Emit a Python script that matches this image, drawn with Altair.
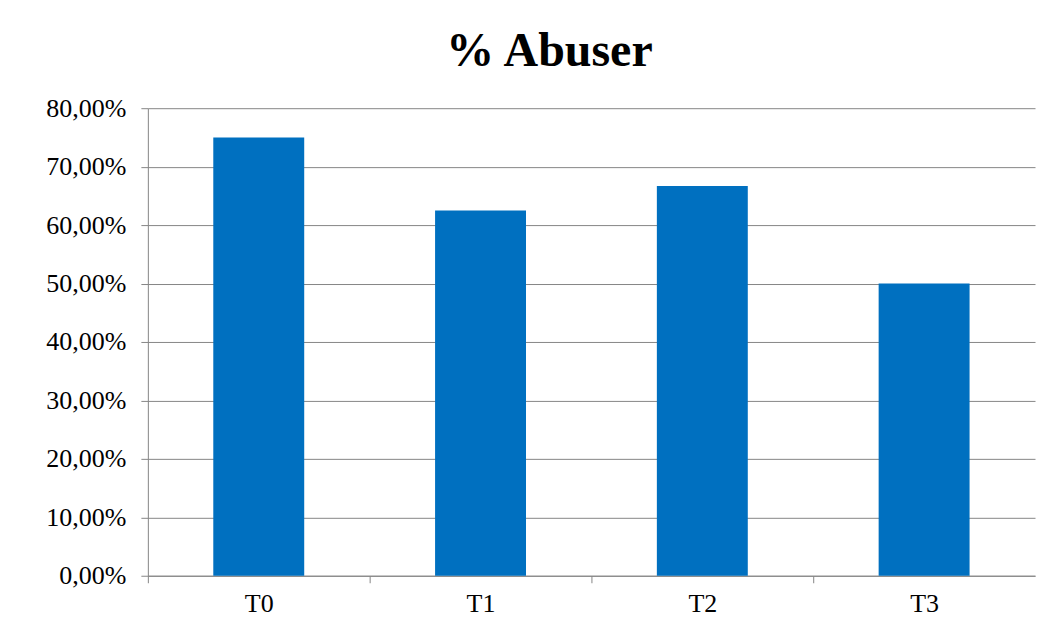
import altair as alt
import pandas as pd

categories = ["T0", "T1", "T2", "T3"]
values = [75.0, 62.5, 66.67, 50.0]

df = pd.DataFrame({"cat": categories, "val": values})

font = "Liberation Serif"
gray = "#868686"

chart = alt.Chart(df).mark_bar(color="#0070C0").encode(
    x=alt.X("cat:N", title=None, sort=categories,
            scale=alt.Scale(paddingInner=0.59, paddingOuter=0.295),
            axis=alt.Axis(labelAngle=0, labelFont=font, labelFontSize=26, labelColor="#000000",
                          domainColor=gray, tickColor=gray, tickSize=7, bandPosition=0,
                          tickOffset=-65.5, labelOffset=65.5, labelPadding=8, grid=False)),
    y=alt.Y("val:Q", title=None, scale=alt.Scale(domain=[0, 80]),
            axis=alt.Axis(values=[0, 10, 20, 30, 40, 50, 60, 70, 80],
                          labelExpr="replace(format(datum.value, '.2f'), '.', ',') + '%'",
                          labelFont=font, labelFontSize=26, labelColor="#000000",
                          domainColor=gray, tickColor=gray, tickSize=7, labelPadding=15,
                          gridColor=gray, gridWidth=1)),
).properties(
    width=888, height=468,
    title=alt.TitleParams("% Abuser", font=font, fontSize=48, fontWeight="bold", color="#000000",
                          offset=19, dx=-42),
    padding={"left": 45, "top": 28, "right": 2, "bottom": 3},
).configure_view(stroke=None)

chart.save("out.html", embed_options={"renderer": "svg", "actions": False})
